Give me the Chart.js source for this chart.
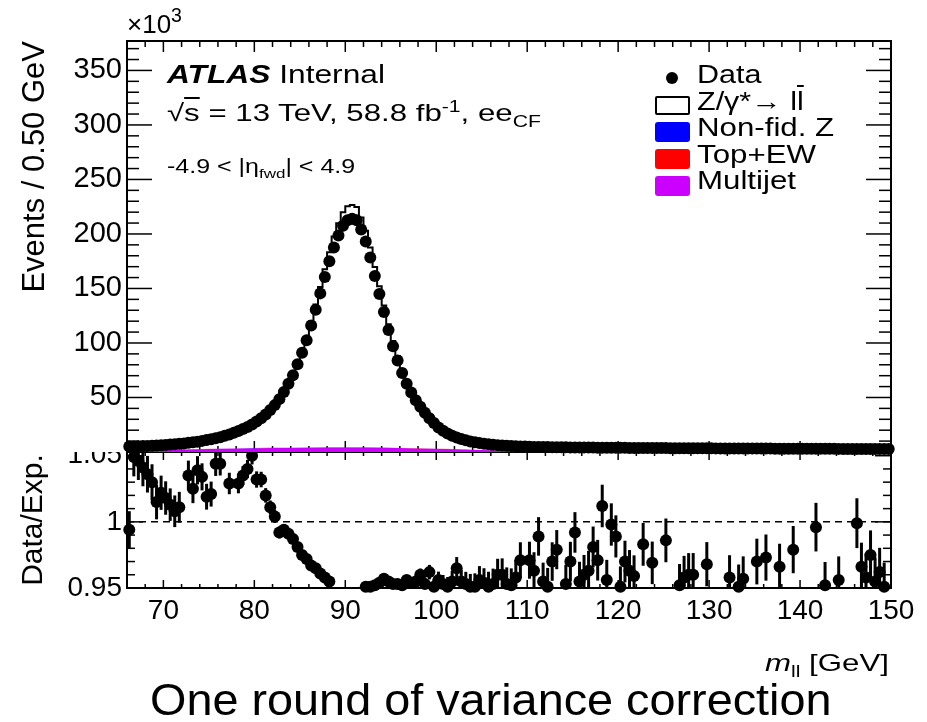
<!DOCTYPE html>
<html>
<head>
<meta charset="utf-8">
<script src="https://cdn.jsdelivr.net/npm/chart.js@4.4.1/dist/chart.umd.min.js"></script>
<style>
  body { margin: 0; background: #fff; width: 927px; height: 722px; overflow: hidden; position: relative;
         font-family: "Liberation Sans", Arial, sans-serif; color: #000; }
  #topBox { position: absolute; left: 0; top: 0; width: 927px; height: 480px; z-index: 2; }
  #ratioBox { position: absolute; left: 0; top: 430px; width: 927px; height: 230px; z-index: 1; }
  .txt { position: absolute; white-space: nowrap; line-height: 1; transform-origin: 0 0; z-index: 3; }
  .sup { font-size: 0.68em; position: relative; top: -0.55em; }
  .sub { font-size: 0.68em; position: relative; top: 0.35em; }
  .box { position: absolute; width: 35px; height: 20px; border-radius: 3px; z-index: 3; }
</style>
</head>
<body>
<div id="topBox"><canvas id="topCanvas"></canvas></div>
<div id="ratioBox"><canvas id="ratioCanvas"></canvas></div>

<!-- text on the plot -->
<div class="txt" style="left:127px;top:11px;font-size:26px;">×10<span class="sup" style="font-size:0.75em;">3</span></div>
<div class="txt" style="left:167px;top:61px;font-size:26px;transform:scaleX(1.22);"><b><i>ATLAS</i></b> Internal</div>
<div class="txt" style="left:167px;top:101px;font-size:24px;transform:scaleX(1.3);">√<span style="text-decoration:overline">s</span> = 13 TeV, 58.8 fb<span class="sup">-1</span>, ee<span class="sub">CF</span></div>
<div class="txt" style="left:167px;top:156px;font-size:20px;transform:scaleX(1.25);">-4.9 &lt; |η<span class="sub">fwd</span>| &lt; 4.9</div>

<!-- legend -->
<div style="position:absolute;left:666px;top:72px;width:12px;height:12px;border-radius:50%;background:#000;z-index:3;"></div>
<div class="box" style="left:655px;top:96px;width:31px;height:15px;border:2px solid #000;background:#fff;border-radius:2px;"></div>
<div class="box" style="left:655px;top:122px;background:#0000ff;"></div>
<div class="box" style="left:655px;top:149px;background:#ff0000;"></div>
<div class="box" style="left:655px;top:176px;background:#cc00ff;"></div>
<div class="txt" style="left:697px;top:62px;font-size:25px;transform:scaleX(1.22);">Data</div>
<div class="txt" style="left:697px;top:89px;font-size:25px;transform:scaleX(1.22);">Z/γ*→ l<span style="text-decoration:overline">l</span></div>
<div class="txt" style="left:697px;top:115px;font-size:25px;transform:scaleX(1.25);">Non-fid. Z</div>
<div class="txt" style="left:697px;top:142px;font-size:25px;transform:scaleX(1.25);">Top+EW</div>
<div class="txt" style="left:697px;top:168px;font-size:25px;transform:scaleX(1.25);">Multijet</div>

<!-- axis title and caption -->
<div class="txt" style="left:765px;top:651px;font-size:24px;transform:scaleX(1.3);"><i>m</i><span class="sub">ll</span> [GeV]</div>
<div class="txt" style="left:150px;top:677px;font-size:45px;transform:scaleX(1.04);">One round of variance correction</div>

<script>
// Histogram binning: 0.5 GeV bins between 66 and 150 GeV
const binLow = 66;
const binWidth = 0.5;
const nBins = 168;
const massCenters = [];
for (let i = 0; i < nBins; i++) massCenters.push(binLow + binWidth * (i + 0.5));

// Data events per bin (x10^3)
const dataK = [
  5.0, 5.15, 5.3, 5.45, 5.6, 5.8, 6.0, 6.25, 6.5, 6.8,
  7.1, 7.5, 7.9, 8.4, 8.9, 9.5, 10.2, 10.9, 11.7, 12.6,
  13.6, 14.8, 16.1, 17.6, 19.2, 21.0, 23.0, 25.3, 28.0, 31.0,
  34.5, 38.5, 43.0, 48.5, 55.0, 62.5, 70.5, 80.5, 91.0, 102.5,
  116, 130.5, 145.5, 160.5, 175, 187.5, 198.5, 207.5, 212.5, 214,
  212.5, 204, 193, 178.5, 161.5, 145, 128.5, 112, 97, 84,
  72.5, 62.5, 54.5, 47.5, 41.5, 36.0, 31.0, 26.5, 22.5, 19.5,
  17.0, 15.0, 13.3, 11.9, 10.7, 9.7, 8.9, 8.2, 7.6, 7.1,
  6.7, 6.3, 6.0, 5.75, 5.5, 5.3, 5.12, 4.96, 4.82, 4.7,
  4.62, 4.55, 4.5, 4.44, 4.38, 4.33, 4.28, 4.23, 4.19, 4.15,
  4.1, 4.06, 4.03, 3.99, 3.96, 3.92, 3.89, 3.86, 3.83, 3.8,
  3.77, 3.74, 3.71, 3.69, 3.66, 3.63, 3.61, 3.58, 3.56, 3.53,
  3.51, 3.49, 3.46, 3.44, 3.42, 3.4, 3.38, 3.36, 3.34, 3.32,
  3.3, 3.28, 3.26, 3.24, 3.22, 3.2, 3.18, 3.17, 3.15, 3.13,
  3.11, 3.1, 3.08, 3.06, 3.05, 3.03, 3.01, 3.0, 2.98, 2.97,
  2.95, 2.94, 2.92, 2.91, 2.89, 2.88, 2.86, 2.85, 2.84, 2.82,
  2.81, 2.8, 2.78, 2.77, 2.76, 2.74, 2.73, 2.72
];

// Data / expectation per bin (values outside 0.95-1.053 are not drawn)
const ratio = [
  0.994, 1.049, 1.046, 1.041, 1.036, 1.030, 1.015, 1.022, 1.018, 1.013,
  1.008, 1.011, 1.058, 1.035, 1.025, 1.039, 1.034, 1.019, 1.021, 1.044,
  1.044, 1.057, 1.029, 1.056, 1.029, 1.035, 1.040, 1.050, 1.032, 1.032,
  1.020, 1.011, 1.004, 0.992, 0.994, 0.991, 0.987, 0.981, 0.975, 0.972,
  0.967, 0.965, 0.961, 0.958, 0.955, 0.948, 0.946, 0.944, 0.943, 0.945,
  0.946, 0.948, 0.951, 0.951, 0.952, 0.954, 0.957, 0.955, 0.953, 0.953,
  0.952, 0.956, 0.954, 0.955, 0.960, 0.953, 0.962, 0.951, 0.956, 0.953,
  0.951, 0.955, 0.965, 0.955, 0.953, 0.951, 0.951, 0.956, 0.954, 0.951,
  0.953, 0.960, 0.960, 0.953, 0.952, 0.958, 0.971, 0.946, 0.971, 0.963,
  0.989, 0.955, 0.951, 0.970, 0.979, 0.945, 0.953, 0.970, 0.992, 0.955,
  0.960, 0.963, 0.981, 0.971, 1.012, 0.956, 0.998, 0.989, 0.951, 0.970,
  0.963, 0.959, 0.944, 0.983, 0.941, 0.969, 0.946, 0.938, 0.986, 0.942,
  0.945, 0.952, 0.958, 0.960, 0.960, 0.943, 0.939, 0.968, 0.944, 0.940,
  0.946, 0.937, 0.958, 0.943, 0.951, 0.957, 0.945, 0.941, 0.970, 0.944,
  0.973, 0.939, 0.946, 0.966, 0.942, 0.938, 0.979, 0.945, 0.940, 0.943,
  0.936, 0.996, 0.944, 0.952, 0.941, 0.945, 0.956, 0.939, 0.943, 0.946,
  0.999, 0.966, 0.958, 0.975, 0.955, 0.962, 0.951, 0.942
];

// Backgrounds (x10^3), sampled every 2 GeV
const bgMass = [66, 68, 70, 72, 74, 76, 78, 80, 82, 84, 86, 88, 90, 92, 94, 96, 98, 100, 102, 104, 106, 108,
  110, 112, 114, 116, 118, 120, 122, 124, 126, 128, 130, 132, 134, 136, 138, 140, 142, 144, 146, 148, 150];
const multijetK = [1.0, 1.4, 1.8, 2.2, 2.6, 2.9, 3.2, 3.5, 3.7, 3.8, 3.9, 3.9, 3.9, 3.9, 3.8, 3.6, 3.3, 3.0, 2.6, 2.1, 1.6, 1.2,
  0.8, 0.55, 0.4, 0.3, 0.22, 0.17, 0.13, 0.1, 0.1, 0.1, 0.1, 0.1, 0.1, 0.1, 0.1, 0.1, 0.1, 0.1, 0.1, 0.1, 0.1];
const topEwK = [0.05, 0.05, 0.05, 0.05, 0.05, 0.05, 0.05, 0.05, 0.1, 0.15, 0.25, 0.35, 0.4, 0.35, 0.25, 0.15, 0.1, 0.05, 0.05, 0.05, 0.05, 0.05,
  0.05, 0.05, 0.05, 0.05, 0.05, 0.05, 0.05, 0.05, 0.05, 0.05, 0.05, 0.05, 0.05, 0.05, 0.05, 0.05, 0.05, 0.05, 0.05, 0.05, 0.05];
const nonFidK = [0.02, 0.02, 0.02, 0.02, 0.02, 0.02, 0.02, 0.02, 0.02, 0.02, 0.02, 0.06, 0.08, 0.08, 0.06, 0.02, 0.02, 0.02, 0.02, 0.02, 0.02, 0.02,
  0.02, 0.02, 0.02, 0.02, 0.02, 0.02, 0.02, 0.02, 0.02, 0.02, 0.02, 0.02, 0.02, 0.02, 0.02, 0.02, 0.02, 0.02, 0.02, 0.02, 0.02];

// Tick labels
const xTickValues = [70, 80, 90, 100, 110, 120, 130, 140, 150];
const yTickValuesTop = [50, 100, 150, 200, 250, 300, 350];
const yTickValuesRatio = [0.95, 1, 1.05];

const X_MIN = 66, X_MAX = 150;
const Y_MAX_TOP = 377;
const R_MIN = 0.95, R_MAX = 1.0528;

Chart.defaults.font.family = '"Liberation Sans", Arial, sans-serif';
Chart.defaults.color = '#000';
Chart.defaults.animation = false;

function inRatioRange(r) {
    return r >= R_MIN && r <= R_MAX;
}

// ROOT-like frame with inward ticks on all four sides
const frameTicks = {
    id: 'frameTicks',
    beforeDatasetsDraw(chart, args, o) {
        const { ctx, chartArea: a, scales: { x, y } } = chart;
        ctx.save();
        ctx.strokeStyle = '#000';
        ctx.lineWidth = 1.5;
        const seg = (x1, y1, x2, y2) => {
            ctx.beginPath();
            ctx.moveTo(x1, y1);
            ctx.lineTo(x2, y2);
            ctx.stroke();
        };
        for (let k = Math.ceil(x.min / o.xMinor - 1e-6); k * o.xMinor <= x.max + 1e-6; k++) {
            const v = k * o.xMinor;
            const px = x.getPixelForValue(v);
            const major = Math.abs(v / o.xMajor - Math.round(v / o.xMajor)) < 1e-6;
            const len = major ? o.xMajorLen : o.xMinorLen;
            seg(px, a.bottom, px, a.bottom - len);
            seg(px, a.top, px, a.top + len);
        }
        for (let k = Math.ceil(y.min / o.yMinor - 1e-6); k * o.yMinor <= y.max + 1e-6; k++) {
            const v = k * o.yMinor;
            const py = y.getPixelForValue(v);
            const major = Math.abs(v / o.yMajor - Math.round(v / o.yMajor)) < 1e-6;
            const len = major ? o.yMajorLen : o.yMinorLen;
            seg(a.left, py, a.left + len, py);
            seg(a.right, py, a.right - len, py);
        }
        ctx.lineWidth = 2;
        ctx.strokeRect(a.left, a.top, a.width, a.height);
        ctx.restore();
    }
};

// white backing above the top panel's lower edge so it hides the ratio canvas below it
const whiteTop = {
    id: 'whiteTop',
    beforeDraw(chart) {
        const { ctx, chartArea: a } = chart;
        ctx.save();
        ctx.fillStyle = '#fff';
        ctx.fillRect(0, 0, chart.width, a.bottom);
        ctx.restore();
    }
};

// statistical error bars on the ratio points
const ratioErrorBars = {
    id: 'ratioErrorBars',
    beforeDatasetsDraw(chart) {
        const { ctx, chartArea: a, scales: { y } } = chart;
        const meta = chart.getDatasetMeta(0);
        ctx.save();
        ctx.beginPath();
        ctx.rect(a.left, a.top, a.width, a.height);
        ctx.clip();
        ctx.strokeStyle = '#000';
        ctx.lineWidth = 3;
        meta.data.forEach((pt, i) => {
            const r = ratio[i];
            if (!inRatioRange(r)) return;
            const err = r / Math.sqrt(dataK[i] * 1000);
            ctx.beginPath();
            ctx.moveTo(pt.x, y.getPixelForValue(r + err));
            ctx.lineTo(pt.x, y.getPixelForValue(r - err));
            ctx.stroke();
        });
        ctx.restore();
    }
};

const multijetPts = bgMass.map((m, i) => ({ x: m, y: multijetK[i] }));
const topEwPts = bgMass.map((m, i) => ({ x: m, y: multijetK[i] + topEwK[i] }));
const nonFidPts = bgMass.map((m, i) => ({ x: m, y: multijetK[i] + topEwK[i] + nonFidK[i] }));
const expectedPts = massCenters.map((m, i) => ({ x: m, y: dataK[i] / ratio[i] }));
const dataPts = massCenters.map((m, i) => ({ x: m, y: dataK[i] }));
const ratioPts = massCenters.map((m, i) => ({ x: m, y: ratio[i] }));

const topChart = new Chart(document.getElementById('topCanvas'), {
    type: 'line',
    data: {
        datasets: [
            { label: 'Multijet', data: multijetPts, fill: 'origin', backgroundColor: '#cc00ff',
              borderWidth: 0, pointRadius: 0, order: 5 },
            { label: 'Top+EW', data: topEwPts, fill: '-1', backgroundColor: '#ff0000',
              borderWidth: 0, pointRadius: 0, order: 4 },
            { label: 'Non-fid. Z', data: nonFidPts, fill: '-1', backgroundColor: '#0000ff',
              borderWidth: 0, pointRadius: 0, order: 3 },
            { label: 'Z/γ*→ ll', data: expectedPts, stepped: 'middle', borderColor: '#000',
              borderWidth: 2, fill: false, pointRadius: 0, order: 2 },
            { label: 'Data', type: 'scatter', data: dataPts, backgroundColor: '#000', borderWidth: 0,
              pointRadius: 6, order: 1, clip: 8 },
        ],
    },
    options: {
        responsive: true,
        maintainAspectRatio: false,
        events: [],
        layout: { padding: { top: 41, right: 36, bottom: 28, left: 0 } },
        plugins: {
            legend: { display: false },
            tooltip: { enabled: false },
            frameTicks: { xMajor: 10, xMinor: 2, xMajorLen: 11, xMinorLen: 6,
                          yMajor: 50, yMinor: 10, yMajorLen: 25, yMinorLen: 12 },
        },
        scales: {
            x: { type: 'linear', min: X_MIN, max: X_MAX, display: false },
            y: {
                min: 0,
                max: Y_MAX_TOP,
                afterBuildTicks: s => { s.ticks = yTickValuesTop.map(v => ({ value: v })); },
                afterFit: s => { s.width = 127; },
                ticks: { font: { size: 29 }, padding: 5 },
                grid: { display: false, drawTicks: false },
                border: { display: false },
                title: { display: true, text: 'Events / 0.50 GeV', align: 'end',
                         font: { size: 31 }, padding: { top: 17, bottom: 0 } },
            },
        },
    },
    plugins: [whiteTop, frameTicks],
});

const ratioChart = new Chart(document.getElementById('ratioCanvas'), {
    type: 'scatter',
    data: {
        datasets: [
            { label: 'Data/Exp.', data: ratioPts, backgroundColor: '#000', borderWidth: 0,
              pointRadius: c => (c.raw && inRatioRange(c.raw.y)) ? 6 : 0, clip: 8, order: 1 },
            { label: 'unity', type: 'line', data: [{ x: X_MIN, y: 1 }, { x: X_MAX, y: 1 }],
              borderColor: '#000', borderWidth: 1.5, borderDash: [7, 5], pointRadius: 0, order: 2 },
        ],
    },
    options: {
        responsive: true,
        maintainAspectRatio: false,
        events: [],
        layout: { padding: { top: 22, right: 36, bottom: 0, left: 0 } },
        plugins: {
            legend: { display: false },
            tooltip: { enabled: false },
            frameTicks: { xMajor: 10, xMinor: 2, xMajorLen: 8, xMinorLen: 4,
                          yMajor: 0.05, yMinor: 0.01, yMajorLen: 16, yMinorLen: 8 },
        },
        scales: {
            x: {
                type: 'linear',
                min: X_MIN,
                max: X_MAX,
                afterBuildTicks: s => { s.ticks = xTickValues.map(v => ({ value: v })); },
                afterFit: s => { s.height = 72; },
                ticks: { font: { size: 28 }, padding: 6, maxRotation: 0, autoSkip: false },
                grid: { display: false, drawTicks: false },
                border: { display: false },
            },
            y: {
                min: R_MIN,
                max: R_MAX,
                afterBuildTicks: s => { s.ticks = yTickValuesRatio.map(v => ({ value: v })); },
                afterFit: s => { s.width = 127; },
                ticks: { font: { size: 28 }, padding: 5, callback: v => String(+v.toFixed(2)) },
                grid: { display: false, drawTicks: false },
                border: { display: false },
                title: { display: true, text: 'Data/Exp.', font: { size: 30 },
                         padding: { top: 16, bottom: 0 } },
            },
        },
    },
    plugins: [frameTicks, ratioErrorBars],
});
</script>
</body>
</html>
